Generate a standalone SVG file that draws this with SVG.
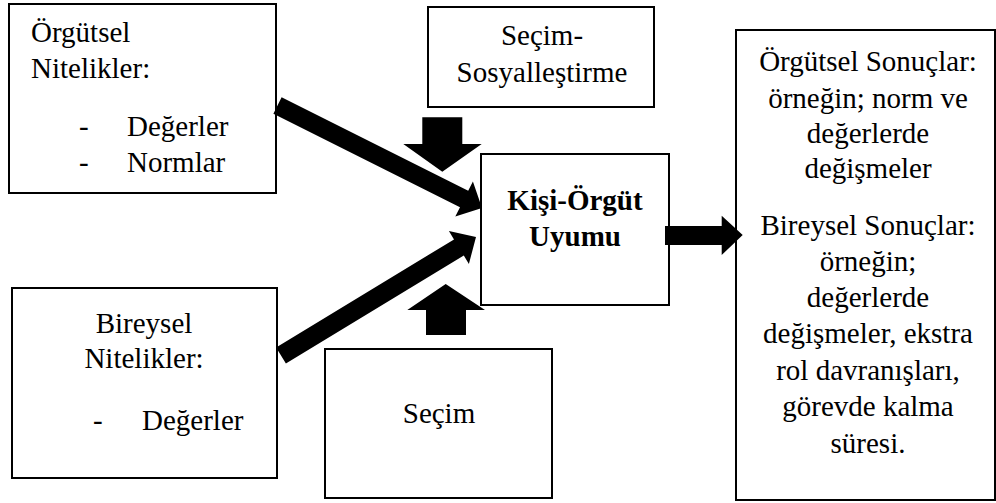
<svg xmlns="http://www.w3.org/2000/svg" width="996" height="503" viewBox="0 0 996 503">
<style>
.box{fill:#fff;stroke:#000;stroke-width:2}
text{font-family:"Liberation Serif","Times New Roman",serif;font-size:29px;fill:#000}
.c{text-anchor:middle}
.b{font-weight:bold}
.arr{fill:#000}
</style>
<rect width="996" height="503" fill="#fff"/>
<g id="orgutsel">
<rect class="box" x="9" y="4" width="267" height="189"/>
<text x="31" y="42">Örgütsel</text>
<text x="31" y="78">Nitelikler:</text>
<text x="79" y="136">-</text>
<text x="127" y="136">Değerler</text>
<text x="79" y="172">-</text>
<text x="127" y="172">Normlar</text>
</g>
<g id="secim-sos">
<rect class="box" x="428" y="7" width="226" height="100"/>
<text class="c" x="542" y="45">Seçim-</text>
<text class="c" x="542" y="82">Sosyalleştirme</text>
</g>
<g id="kisi">
<rect class="box" x="481" y="154" width="188" height="151"/>
<text class="c b" x="575" y="210">Kişi-Örgüt</text>
<text class="c b" x="575" y="246">Uyumu</text>
</g>
<g id="bireysel">
<rect class="box" x="12" y="288" width="265" height="190"/>
<text class="c" x="144" y="333">Bireysel</text>
<text class="c" x="144" y="368">Nitelikler:</text>
<text x="93" y="430">-</text>
<text x="142" y="430">Değerler</text>
</g>
<g id="secim">
<rect class="box" x="325" y="349" width="227" height="149"/>
<text class="c" x="439" y="423">Seçim</text>
</g>
<g id="sonuclar">
<rect class="box" x="736" y="30" width="259" height="470"/>
<text class="c" x="868" y="71">Örgütsel Sonuçlar:</text>
<text class="c" x="868" y="108">örneğin; norm ve</text>
<text class="c" x="868" y="143">değerlerde</text>
<text class="c" x="868" y="178">değişmeler</text>
<text class="c" x="868" y="235">Bireysel Sonuçlar:</text>
<text class="c" x="868" y="271">örneğin;</text>
<text class="c" x="868" y="307">değerlerde</text>
<text class="c" x="868" y="343">değişmeler, ekstra</text>
<text class="c" x="868" y="380">rol davranışları,</text>
<text class="c" x="868" y="416">görevde kalma</text>
<text class="c" x="868" y="453">süresi.</text>
</g>
<g id="connectors">
<polygon class="arr" points="281.6,97.3 468.2,190.8 472.9,181.4 482,208 455.3,216.6 460,207.2 273.4,113.7"/>
<polygon class="arr" points="276.1,347.5 454,239.4 448.9,230.9 476,237 468.9,263.9 463.8,255.4 285.9,363.5"/>
<polygon class="arr" points="422.3,117.3 462.3,117.3 462.3,144 481.7,144 442.3,171.7 403.3,144 422.3,144"/>
<polygon class="arr" points="426,335 466,335 466,310 485,310 445.7,284 407.3,310 426,310"/>
<polygon class="arr" points="665,226 721.7,226 721.7,215.7 742.7,235 721.7,255 721.7,245 665,245"/>
</g>
</svg>
